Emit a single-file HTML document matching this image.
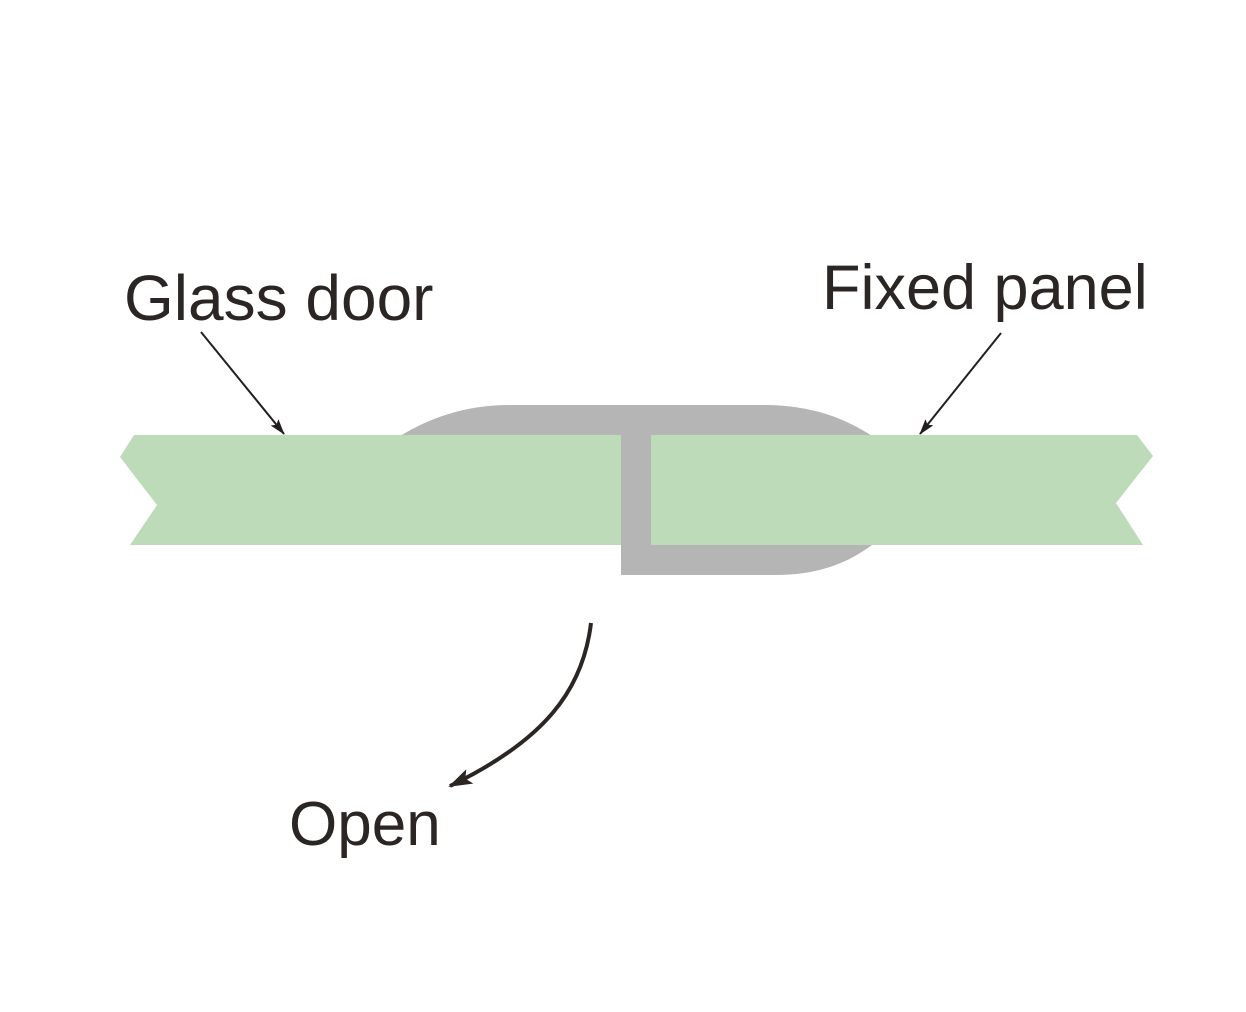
<!DOCTYPE html>
<html><head><meta charset="utf-8"><style>
html,body{margin:0;padding:0;background:#fff;}
svg{display:block;}
text{font-family:"Liberation Sans",Arial,sans-serif;fill:#2b2624;}
</style></head><body>
<svg width="1246" height="1012" viewBox="0 0 1246 1012" xmlns="http://www.w3.org/2000/svg">
<defs>
<marker id="ah" markerWidth="16" markerHeight="10" refX="15" refY="5" orient="auto" markerUnits="userSpaceOnUse">
<path d="M0,0 L16,5 L0,10 L3,5 Z" fill="#231f1e"/>
</marker>
<marker id="ah2" markerWidth="24" markerHeight="16" refX="22" refY="8" orient="auto" markerUnits="userSpaceOnUse">
<path d="M0,0 L24,8 L0,16 L5,8 Z" fill="#2b2624"/>
</marker>
</defs>
<path d="M400,436 C430,418 465,405 510,405 L765,405 C810,405 845,418 872,436 L872,545 C845,565 815,575 775,575 L621,575 L621,436 Z" fill="#b5b5b5"/>
<polygon points="134,435 621,435 621,545 130,545 157,505 120,457" fill="#bddbb8"/>
<polygon points="651,435 1137,435 1153,456 1116,503 1143,545 651,545" fill="#bddbb8"/>
<line x1="201" y1="332" x2="284" y2="434" stroke="#231f1e" stroke-width="2" marker-end="url(#ah)"/>
<line x1="1001" y1="333" x2="920" y2="434" stroke="#231f1e" stroke-width="2" marker-end="url(#ah)"/>
<path d="M591,623 C583,690 545,740 450,786" fill="none" stroke="#2b2624" stroke-width="4" marker-end="url(#ah2)"/>
<text x="124" y="320" font-size="64">Glass door</text>
<text x="822" y="309" font-size="63">Fixed panel</text>
<text x="289" y="845" font-size="62">Open</text>
</svg>
</body></html>
